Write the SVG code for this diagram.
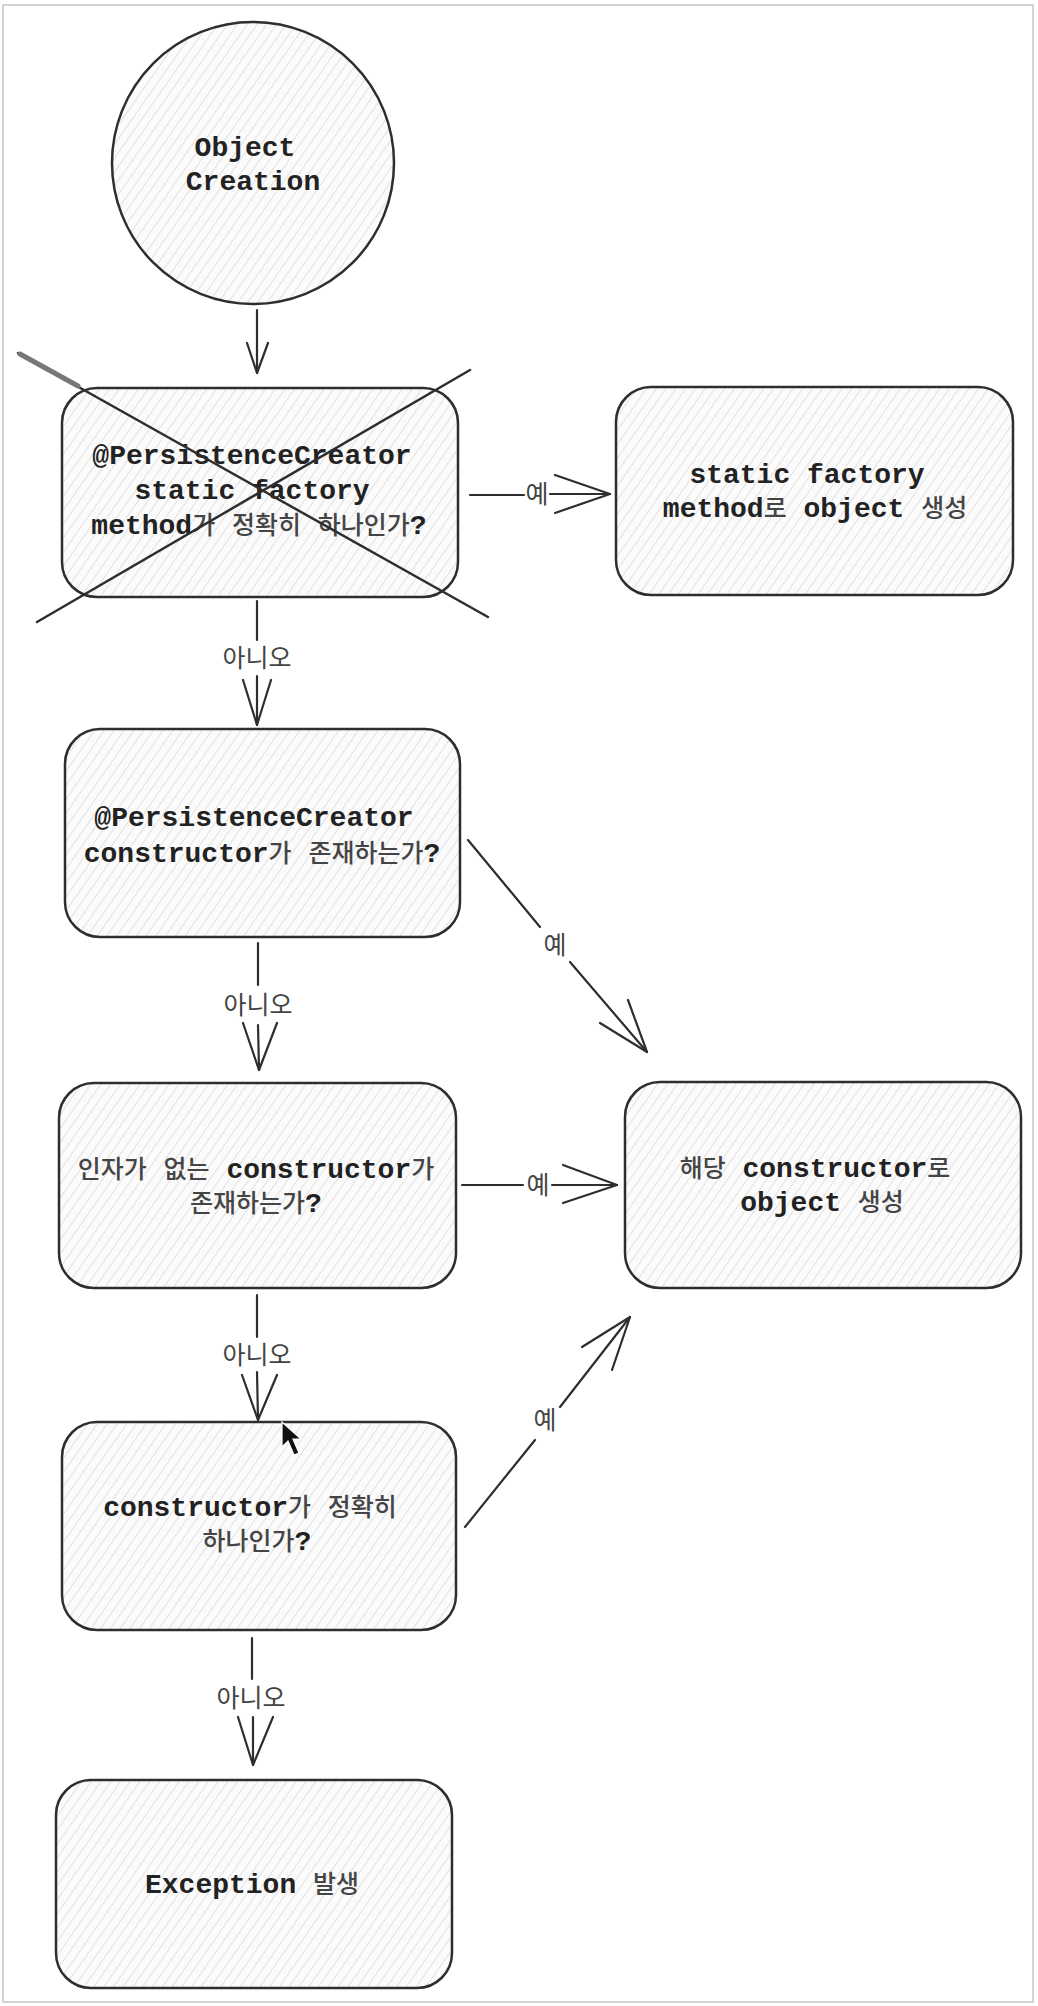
<svg xmlns="http://www.w3.org/2000/svg" width="1038" height="2006" viewBox="0 0 1038 2006">
<style>
.n{fill:url(#hatch);stroke:#2e2e2e;stroke-width:2.5}
.t{font-family:"Liberation Mono","Noto Sans CJK KR",monospace;font-size:28px;font-weight:bold;fill:#222;text-anchor:middle}
.k{font-family:"Noto Sans CJK KR",sans-serif;font-size:25px;font-weight:500;fill:#454545}
.lbl{font-family:"Noto Sans CJK KR",sans-serif;font-size:25px;fill:#444;text-anchor:middle}
.c{fill:none;stroke:#2e2e2e;stroke-width:2.2;stroke-linecap:round;stroke-linejoin:round}
.x{fill:none;stroke:#2e2e2e;stroke-width:2.5;stroke-linecap:round}
</style>
<defs>
<pattern id="hatch" width="8" height="8" patternUnits="userSpaceOnUse" patternTransform="rotate(35)">
<rect width="8" height="8" fill="#fbfbfb"/>
<line x1="0" y1="0" x2="0" y2="8" stroke="#d0d0d0" stroke-width="1.2"/>
</pattern>
</defs>
<rect x="0" y="0" width="1038" height="2006" fill="#ffffff"/>
<rect x="3" y="5" width="1030" height="1997" fill="none" stroke="#d4d4d4" stroke-width="2"/>

<g id="connectors">
<g id="c-start">
<path class="c" d="M257 310 L257 373"/>
<path class="c" d="M247 343 L257 373 L268 343"/>
</g>
<g id="c-n1-n3">
<path class="c" d="M257 601 L257 640 M257 676 L257 725"/>
<path class="c" d="M243 680 L257 725 L271 680"/>
<text class="lbl" x="257" y="667">아니오</text>
</g>
<g id="c-n3-n4">
<path class="c" d="M258 943 L258 985 M258 1025 L259 1070"/>
<path class="c" d="M243 1023 L259 1070 L277 1023"/>
<text class="lbl" x="258" y="1014">아니오</text>
</g>
<g id="c-n4-n5">
<path class="c" d="M257 1295 L257 1337 M257 1372 L258 1420"/>
<path class="c" d="M242 1375 L258 1420 L277 1375"/>
<text class="lbl" x="257" y="1364">아니오</text>
</g>
<g id="c-n5-n6">
<path class="c" d="M252 1638 L252 1679 M253 1717 L253 1765"/>
<path class="c" d="M238 1717 L253 1765 L273 1717"/>
<text class="lbl" x="251" y="1707">아니오</text>
</g>
<g id="c-n1-n2">
<path class="c" d="M470 495 L524 495 M550 494 L610 494"/>
<path class="c" d="M555 475 L610 494 L555 513"/>
<text class="lbl" x="537" y="503">예</text>
</g>
<g id="c-n3-n7">
<path class="c" d="M468 840 L540 927 M570 962 L647 1052"/>
<path class="c" d="M600 1023 L647 1052 L628 1000"/>
<text class="lbl" x="555" y="954">예</text>
</g>
<g id="c-n4-n7">
<path class="c" d="M462 1185 L523 1185 M552 1185 L617 1185"/>
<path class="c" d="M563 1165 L617 1185 L563 1203"/>
<text class="lbl" x="538" y="1194">예</text>
</g>
<g id="c-n5-n7">
<path class="c" d="M465 1527 L535 1440 M560 1407 L630 1317"/>
<path class="c" d="M582 1347 L630 1317 L612 1370"/>
<text class="lbl" x="545" y="1429">예</text>
</g>
</g>

<g id="start">
<circle class="n" cx="253" cy="163" r="141"/>
<text class="t" x="245" y="156">Object</text>
<text class="t" x="253" y="190">Creation</text>
</g>

<g id="n1">
<rect class="n" x="62" y="388" width="396" height="209" rx="35"/>
<text class="t" x="252" y="464">@PersistenceCreator</text>
<text class="t" x="252" y="499">static factory</text>
<text class="t" x="259" y="534">method<tspan class="k">가</tspan> <tspan class="k">정확히</tspan> <tspan class="k">하나인가</tspan>?</text>
<path class="x" d="M18 353 L488 617"/>
<path d="M20 354 L78 386" stroke="#777" stroke-width="5" stroke-linecap="round"/>
<path class="x" d="M470 370 L37 622"/>
</g>

<g id="n2">
<rect class="n" x="616" y="387" width="397" height="208" rx="35"/>
<text class="t" x="807" y="483">static factory</text>
<text class="t" x="815" y="517">method<tspan class="k">로</tspan> object <tspan class="k">생성</tspan></text>
</g>

<g id="n3">
<rect class="n" x="65" y="729" width="395" height="208" rx="35"/>
<text class="t" x="254" y="826">@PersistenceCreator</text>
<text class="t" x="262" y="862">constructor<tspan class="k">가</tspan> <tspan class="k">존재하는가</tspan>?</text>
</g>

<g id="n4">
<rect class="n" x="59" y="1083" width="397" height="205" rx="35"/>
<text class="t" x="256" y="1178"><tspan class="k">인자가</tspan> <tspan class="k">없는</tspan> constructor<tspan class="k">가</tspan></text>
<text class="t" x="256" y="1212"><tspan class="k">존재하는가</tspan>?</text>
</g>

<g id="n5">
<rect class="n" x="62" y="1422" width="394" height="208" rx="35"/>
<text class="t" x="250" y="1516">constructor<tspan class="k">가</tspan> <tspan class="k">정확히</tspan></text>
<text class="t" x="257" y="1550"><tspan class="k">하나인가</tspan>?</text>
</g>

<g id="n6">
<rect class="n" x="56" y="1780" width="396" height="208" rx="35"/>
<text class="t" x="252" y="1893">Exception <tspan class="k">발생</tspan></text>
</g>

<g id="n7">
<rect class="n" x="625" y="1082" width="396" height="206" rx="35"/>
<text class="t" x="815" y="1177"><tspan class="k">해당</tspan> constructor<tspan class="k">로</tspan></text>
<text class="t" x="822" y="1211">object <tspan class="k">생성</tspan></text>
</g>

<path id="cursor" d="M282 1422 L282 1447 L288 1441 L294 1455 L299 1453 L293 1439 L301 1439 Z" fill="#111" stroke="#fff" stroke-width="1.2"/>
</svg>
